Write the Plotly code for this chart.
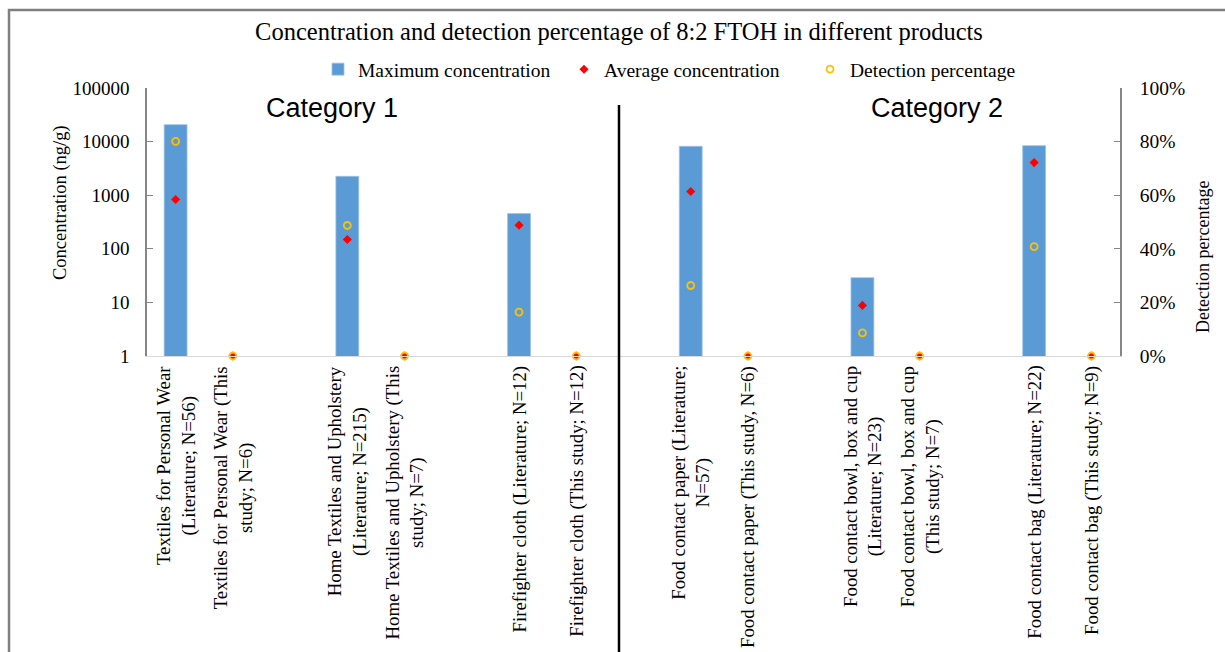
import plotly.graph_objects as go

# ---- data ----
categories = [
    "Textiles for Personal Wear<br>(Literature; N=56)",
    "Textiles for Personal Wear (This<br>study; N=6)",
    " ",
    "Home Textiles and Upholstery<br>(Literature; N=215)",
    "Home Textiles and Upholstery (This<br>study; N=7)",
    "  ",
    "Firefighter cloth (Literature; N=12)",
    "Firefighter cloth (This study; N=12)",
    "   ",
    "Food contact paper (Literature;<br>N=57)",
    "Food contact paper (This study, N=6)",
    "    ",
    "Food contact bowl, box and cup<br>(Literature; N=23)",
    "Food contact bowl, box and cup<br>(This study; N=7)",
    "     ",
    "Food contact bag (Literature; N=22)",
    "Food contact bag (This study; N=9)",
]
max_conc = [20700, None, None, 2250, None, None, 455, None, None,
            8170, None, None, 28.9, None, None, 8410, None]
avg_conc = [830, 1, None, 149, 1, None, 276, 1, None,
            1170, 1, None, 8.8, 1, None, 4060, 1]
detect_pct = [0.801, 0.0, None, 0.487, 0.0, None, 0.164, 0.0, None,
              0.263, 0.0, None, 0.086, 0.0, None, 0.408, 0.0]
group_titles = ["Category 1", "Category 2"]
conc_ticks = [1, 10, 100, 1000, 10000, 100000]
pct_ticks = [0, 0.2, 0.4, 0.6, 0.8, 1.0]

# ---- geometry ----
W, H = 1225, 652
L, R, T, B = 147, 1120, 88, 356
pw, ph = R - L, B - T


def px_x(p):
    return (p - L) / pw


def px_y(p):
    return (B - p) / ph


SERIF = "Liberation Serif"
SANS = "Liberation Sans"

fig = go.Figure()
fig.add_trace(go.Bar(
    x=categories, y=max_conc, name="Maximum concentration",
    marker=dict(color="#5B9BD5", line=dict(color="#9DC3E6", width=0.8)),
    width=0.4,
))
fig.add_trace(go.Scatter(
    x=categories, y=avg_conc, name="Average concentration", mode="markers",
    marker=dict(symbol="diamond", color="#FF0000", size=7),
    cliponaxis=False,
))
fig.add_trace(go.Scatter(
    x=categories, y=detect_pct, name="Detection percentage", mode="markers",
    marker=dict(symbol="circle-open", color="#FFC000", size=7,
                line=dict(width=1.8, color="#FFC000")),
    yaxis="y2", cliponaxis=False,
))

annotations = []
# category labels below the axis, centred multi-line text
for c in categories:
    if c.strip():
        annotations.append(dict(
            x=c, xref="x", y=px_y(B + 8), yref="paper",
            text=c, textangle=-90, showarrow=False,
            xanchor="center", yanchor="top", align="center",
            font=dict(family=SERIF, size=18.8, color="#000000"),
        ))
for title, cx in zip(group_titles, [332, 937]):
    annotations.append(dict(
        x=px_x(cx), xref="paper", y=px_y(108), yref="paper",
        text=title, showarrow=False, xanchor="center", yanchor="middle",
        font=dict(family=SANS, size=27, color="#000000"),
    ))
annotations.append(dict(
    x=px_x(60), xref="paper", y=px_y(203), yref="paper",
    text="Concentration (ng/g)", textangle=-90, showarrow=False,
    xanchor="center", yanchor="middle",
    font=dict(family=SERIF, size=18.5, color="#000000"),
))
annotations.append(dict(
    x=px_x(1203), xref="paper", y=px_y(257), yref="paper",
    text="Detection percentage", textangle=-90, showarrow=False,
    xanchor="center", yanchor="middle",
    font=dict(family=SERIF, size=18, color="#000000"),
))

shapes = [
    # divider between the two groups
    dict(type="line", xref="paper", yref="paper",
         x0=px_x(619), x1=px_x(619), y0=px_y(105), y1=px_y(700),
         line=dict(color="#000000", width=2.5)),
    # outer frame
    dict(type="rect", xref="paper", yref="paper",
         x0=px_x(9), x1=px_x(1260), y0=px_y(700), y1=px_y(10),
         line=dict(color="#7F7F7F", width=2.5), fillcolor="rgba(0,0,0,0)"),
]

fig.update_layout(
    width=W, height=H,
    margin=dict(l=L, r=W - R, t=T, b=H - B, pad=0),
    paper_bgcolor="#FFFFFF", plot_bgcolor="#FFFFFF",
    font=dict(family=SERIF, size=18, color="#000000"),
    title=dict(
        text="Concentration and detection percentage of 8:2 FTOH in different products",
        x=619 / W, xanchor="center", xref="container",
        y=1 - 31 / H, yanchor="middle", yref="container",
        font=dict(family=SERIF, size=24.5, color="#000000"),
    ),
    showlegend=True,
    legend=dict(
        orientation="h", x=px_x(318), xanchor="left",
        y=px_y(50), yanchor="top",
        entrywidth=201, entrywidthmode="pixels",
        font=dict(family=SERIF, size=19.5, color="#000000"),
        bgcolor="rgba(0,0,0,0)", itemclick=False,
    ),
    bargap=0.6,
    xaxis=dict(
        type="category", categoryorder="array", categoryarray=categories,
        range=[-0.5, len(categories) - 0.5],
        showticklabels=False, ticks="", showgrid=False, zeroline=False,
        showline=True, linecolor="#D9D9D9", linewidth=1,
    ),
    yaxis=dict(
        type="log", range=[0, 5],
        tickvals=conc_ticks, ticktext=[str(v) for v in conc_ticks],
        ticks="inside", ticklen=6, tickcolor="#868686", tickwidth=1.2,
        showline=True, linecolor="#868686", linewidth=1.5,
        showgrid=False, zeroline=False, ticklabelstandoff=12,
        tickfont=dict(family=SERIF, size=19, color="#000000"),
    ),
    yaxis2=dict(
        overlaying="y", side="right", range=[0, 1],
        tickvals=pct_ticks, tickformat=".0%",
        ticks="inside", ticklen=6, tickcolor="#868686", tickwidth=1.2,
        showline=True, linecolor="#868686", linewidth=1.5,
        showgrid=False, zeroline=False, ticklabelstandoff=14,
        tickfont=dict(family=SERIF, size=19.5, color="#000000"),
    ),
    annotations=annotations,
    shapes=shapes,
)

fig.write_html("out.html")
